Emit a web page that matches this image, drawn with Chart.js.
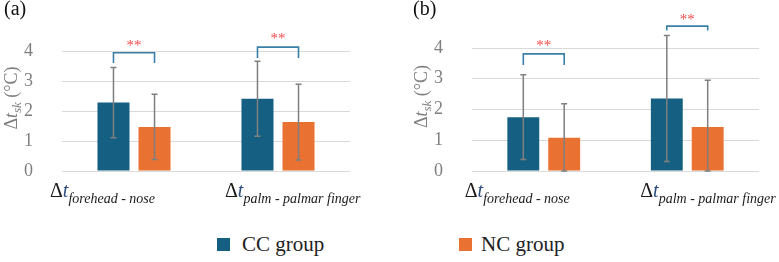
<!DOCTYPE html>
<html>
<head>
<meta charset="utf-8">
<script src="https://cdn.jsdelivr.net/npm/chart.js@4.4.0/dist/chart.umd.min.js"></script>
<style>
  body { margin: 0; background: #fff; }
  #wrap { position: relative; width: 779px; height: 262px; overflow: hidden; }
  canvas { position: absolute; top: 0; }
  .panel { position: absolute; top: -2px; font-size: 20px; line-height: 20px; color: #111; }
  .leg { position: absolute; top: 234px; font-size: 21px; line-height: 21px; color: #222; white-space: nowrap; }
  .sw { position: absolute; top: 238px; width: 13px; height: 13px; }
</style>
</head>
<body>
<div id="wrap">
  <canvas id="chartA" width="390" height="215" style="left:0"></canvas>
  <canvas id="chartB" width="389" height="215" style="left:390px"></canvas>
  <div class="panel" style="left:4px;font-family:'Liberation Serif'">(a)</div>
  <div class="panel" style="left:413px;font-family:'Liberation Serif'">(b)</div>
  <div class="sw" style="left:217px;background:#156082"></div>
  <div class="leg" style="left:242px;font-family:'Liberation Serif'">CC group</div>
  <div class="sw" style="left:459px;background:#E97132"></div>
  <div class="leg" style="left:481px;font-family:'Liberation Serif'">NC group</div>
</div>

<script>
// data
var categories = ["forehead - nose", "palm - palmar finger"];
var yTicks = [0, 1, 2, 3, 4];

// panel (a)
var ccA = [2.28, 2.41];
var ccSdA = [1.17, 1.25];
var ncA = [1.47, 1.63];
var ncSdA = [1.09, 1.26];
var bracketTopA = [3.94, 4.13];
var bracketLegA = [3.60, 3.77];
var starsA = [4.30, 4.53];

// panel (b)
var ccB = [1.75, 2.36];
var ccSdB = [1.38, 2.05];
var ncB = [1.08, 1.43];
var ncSdB = [1.11, 1.52];
var bracketTopB = [3.81, 4.71];
var bracketLegB = [3.45, 4.57];
var starsB = [4.18, 5.05];

var serif = "'Liberation Serif', serif";
var CC_COLOR = '#156082';
var NC_COLOR = '#E97132';
Chart.defaults.font.family = serif;

var extras = {
  id: 'extras',
  afterDatasetsDraw: function(chart, args, o) {
    var ctx = chart.ctx, xs = chart.scales.x, ys = chart.scales.y;
    ctx.save();

    // error bars
    ctx.strokeStyle = '#7f7f7f';
    ctx.lineWidth = 1.5;
    chart.data.datasets.forEach(function(ds, i) {
      chart.getDatasetMeta(i).data.forEach(function(bar, j) {
        var v = ds.data[j], sd = ds.sd[j];
        var t = ys.getPixelForValue(v + sd);
        var b = ys.getPixelForValue(Math.max(0, v - sd));
        ctx.beginPath();
        ctx.moveTo(bar.x, t); ctx.lineTo(bar.x, b);
        ctx.moveTo(bar.x - 3, t); ctx.lineTo(bar.x + 3, t);
        ctx.moveTo(bar.x - 3, b); ctx.lineTo(bar.x + 3, b);
        ctx.stroke();
      });
    });

    // significance brackets
    var m0 = chart.getDatasetMeta(0).data, m1 = chart.getDatasetMeta(1).data;
    categories.forEach(function(c, j) {
      var x0 = m0[j].x, x1 = m1[j].x;
      var yt = ys.getPixelForValue(o.bracketTop[j]);
      var yl = ys.getPixelForValue(o.bracketLeg[j]);
      ctx.strokeStyle = '#3a7fa8';
      ctx.lineWidth = 1.6;
      ctx.beginPath();
      ctx.moveTo(x0, yl); ctx.lineTo(x0, yt); ctx.lineTo(x1, yt); ctx.lineTo(x1, yl);
      ctx.stroke();
      ctx.fillStyle = '#f24a4a';
      ctx.font = '15px ' + serif;
      ctx.textAlign = 'center';
      ctx.textBaseline = 'alphabetic';
      ctx.fillText('**', (x0 + x1) / 2, ys.getPixelForValue(o.stars[j]) + 8);
    });

    // category labels with subscripts
    ctx.textAlign = 'left';
    categories.forEach(function(c, j) {
      var x = xs.getPixelForValue(j) + o.labelDx[j];
      var base = 197;
      ctx.fillStyle = '#1a1a1a';
      ctx.font = '20px ' + serif;
      ctx.fillText('\u0394', x, base);
      x += ctx.measureText('\u0394').width;
      ctx.fillStyle = '#2b4c7e';
      ctx.font = 'italic 20px ' + serif;
      ctx.fillText('t', x, base);
      x += ctx.measureText('t').width;
      ctx.fillStyle = '#1a1a1a';
      ctx.font = 'italic 14px ' + serif;
      ctx.fillText(c, x, base + 6);
    });

    // rotated y title
    var parts = [
      ['\u0394', '18px ' + serif, 0],
      ['t', 'italic 18px ' + serif, 0],
      ['sk', 'italic 13px ' + serif, 4],
      [' (\u00b0C)', '18px ' + serif, 0]
    ];
    var total = 0;
    parts.forEach(function(p) { ctx.font = p[1]; total += ctx.measureText(p[0]).width; });
    ctx.translate(o.titleX, (chart.chartArea.top + chart.chartArea.bottom) / 2 - 13);
    ctx.rotate(-Math.PI / 2);
    ctx.fillStyle = '#7f7f7f';
    var px = -total / 2;
    parts.forEach(function(p) {
      ctx.font = p[1];
      ctx.fillText(p[0], px, p[2]);
      px += ctx.measureText(p[0]).width;
    });
    ctx.restore();
  }
};

function makeChart(id, cc, ccSd, nc, ncSd, pad, yWidth, opts) {
  return new Chart(document.getElementById(id), {
    type: 'bar',
    data: {
      labels: categories,
      datasets: [
        { label: 'CC group', data: cc, sd: ccSd, backgroundColor: CC_COLOR,
          categoryPercentage: 0.57, barPercentage: 0.78 },
        { label: 'NC group', data: nc, sd: ncSd, backgroundColor: NC_COLOR,
          categoryPercentage: 0.57, barPercentage: 0.78 }
      ]
    },
    options: {
      responsive: false,
      animation: false,
      layout: { padding: pad },
      plugins: { legend: { display: false }, tooltip: { enabled: false }, extras: opts },
      scales: {
        x: { display: false },
        y: {
          min: 0, max: 4,
          afterFit: function(s) { s.width = yWidth; },
          afterBuildTicks: function(s) { s.ticks = yTicks.map(function(v) { return { value: v }; }); },
          border: { display: false },
          grid: { color: '#d9d9d9', lineWidth: 1, drawTicks: false },
          ticks: { padding: 29, color: '#7f7f7f', font: { family: serif, size: 18 } }
        }
      }
    },
    plugins: [extras]
  });
}

var chartA = makeChart('chartA', ccA, ccSdA, ncA, ncSdA,
  { left: 0, right: 40, top: 51, bottom: 44 }, 62,
  { bracketTop: bracketTopA, bracketLeg: bracketLegA, stars: starsA, labelDx: [-84, -53], titleX: 17 });

var chartB = makeChart('chartB', ccB, ccSdB, ncB, ncSdB,
  { left: 0, right: 20, top: 48, bottom: 44 }, 82,
  { bracketTop: bracketTopB, bracketLeg: bracketLegB, stars: starsB, labelDx: [-79, -47], titleX: 37 });

// redraw once the serif face is surely available to the canvas
if (document.fonts && document.fonts.load) {
  Promise.all([
    document.fonts.load("18px 'Liberation Serif'"),
    document.fonts.load("italic 18px 'Liberation Serif'")
  ]).then(function() { chartA.update(); chartB.update(); });
}
</script>
</body>
</html>
